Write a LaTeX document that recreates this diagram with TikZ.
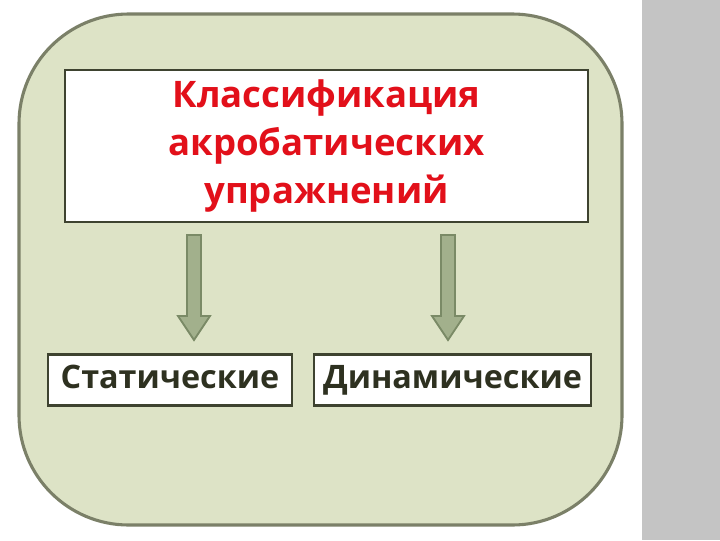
\documentclass[tikz,border=0pt]{standalone}
\usepackage{fontspec}
\setmainfont{Open Sans}
\usetikzlibrary{shapes.arrows}

\definecolor{panel}{HTML}{DDE3C6}
\definecolor{panelline}{HTML}{7B8068}
\definecolor{boxline}{HTML}{3E4330}
\definecolor{arrowfill}{HTML}{A2B08C}
\definecolor{arrowline}{HTML}{7A8A66}
\definecolor{titlered}{HTML}{E2101A}
\definecolor{kindtext}{HTML}{2E3120}
\definecolor{strip}{HTML}{C4C4C4}

\begin{document}
\begin{tikzpicture}[x=0.025cm,y=-0.025cm]
	\tikzset{box/.style={draw=boxline,line width=2pt,fill=white,inner sep=0pt},
		kind/.style={box,font=\fontsize{23}{26}\selectfont\bfseries,text=kindtext,
			text height=17pt,text depth=5pt},
		downarrow/.style={draw=arrowline,fill=arrowfill,line width=1.3pt,line join=miter}}
	\useasboundingbox (0,0) rectangle (720,540);
	\fill[strip] (642,0) rectangle (720,540);
	\draw[panelline,fill=panel,line width=2.2pt,rounded corners=78] (19,14) rectangle (622,525);
	
	\node[box,minimum width=523*0.025cm,minimum height=152*0.025cm,align=center,
		font=\fontsize{26}{34}\selectfont\bfseries,text=titlered](title) at (326.5,146)
		{Классификация\\акробатических\\упражнений};
	
	\node[kind,minimum width=244*0.025cm,minimum height=51*0.025cm](stat) at (170,380) {Статические};
	\node[kind,minimum width=277*0.025cm,minimum height=51*0.025cm](dyn) at (452.5,380) {Динамические};
	
	% block arrows
	\foreach \x in {194,448}{
		\draw[downarrow] (\x-7,235) -- (\x+7,235) -- (\x+7,316) -- (\x+16,316)
			-- (\x,340) -- (\x-16,316) -- (\x-7,316) -- cycle;
	}
\end{tikzpicture}
\end{document}
